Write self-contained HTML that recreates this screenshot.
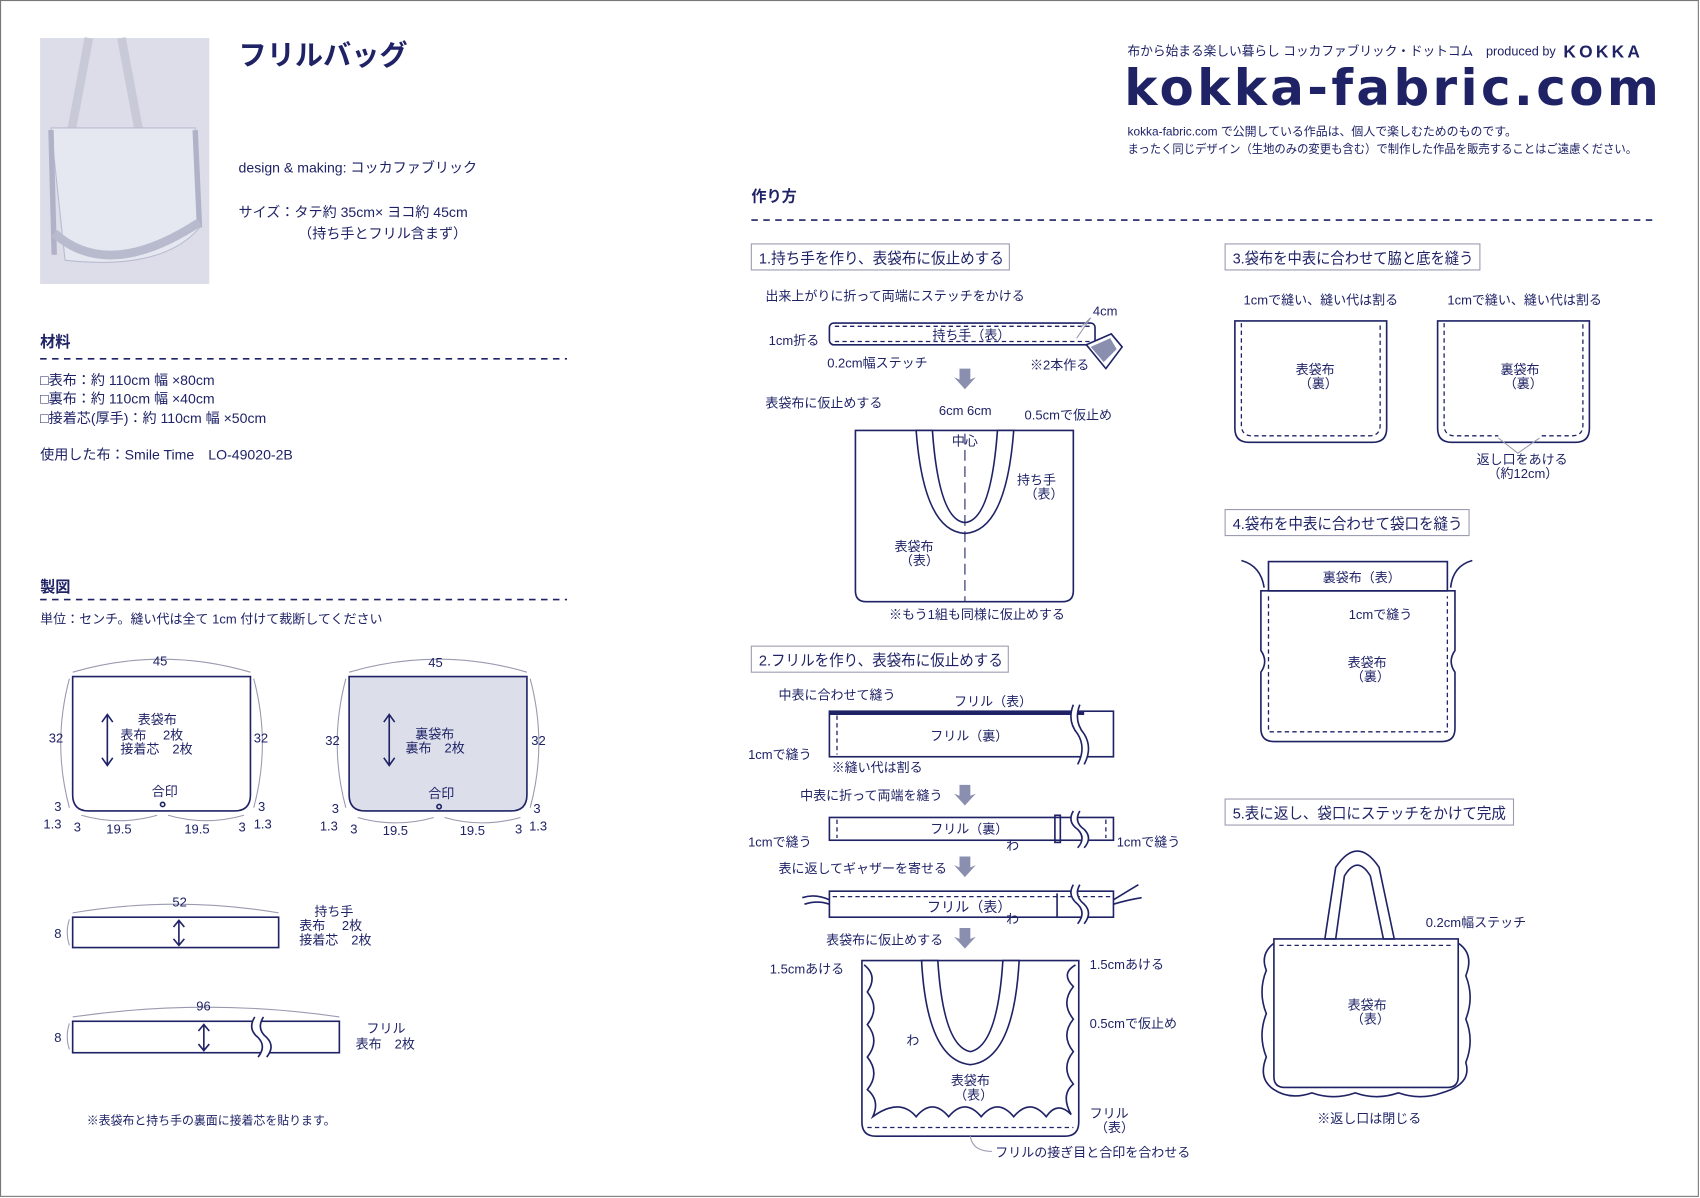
<!DOCTYPE html>
<html><head><meta charset="utf-8"><style>
html,body{margin:0;padding:0;background:#fff;}
svg{display:block;}
text{font-family:"Liberation Sans","Noto Sans CJK JP",sans-serif;fill:#1f2366;}
.s{stroke:#1f2366;stroke-width:1.5;fill:none;}
.d{stroke:#1f2366;stroke-width:1.2;fill:none;stroke-dasharray:4 3;}
.g{stroke:#9a9ab0;stroke-width:1;fill:none;}
.w{fill:#fff;stroke:#1f2366;stroke-width:1.5;}
.bx{fill:#fff;stroke:#9a9ab0;stroke-width:1;}
.ar{fill:#8a8fb0;}
</style></head><body>
<svg width="1700" height="1198" viewBox="0 0 1568 1105" xmlns="http://www.w3.org/2000/svg">
<rect x="0.5" y="0.5" width="1566" height="1103" fill="#fff" stroke="#777" stroke-width="1"/>

<!-- photo -->
<rect x="37" y="35" width="156" height="227" fill="#dcdde8"/>
<path d="M82 35 L66 120 M112 35 L128 120" stroke="#c8cad8" stroke-width="8" fill="none"/>
<path d="M47 118 L180 118 L184 210 Q150 250 60 240 Z" fill="#e6e8f1" stroke="#b8bbd0"/>
<path d="M47 120 L50 235 M180 120 L184 210" stroke="#b0b3c8" stroke-width="5" fill="none"/>
<path d="M50 215 Q100 260 184 205" stroke="#b8bbce" stroke-width="8" fill="none"/>

<text x="220" y="60" font-size="26" font-weight="bold">フリルバッグ</text>
<text x="220" y="159" font-size="13">design &amp; making: コッカファブリック</text>
<text x="220" y="200" font-size="13">サイズ：タテ約 35cm× ヨコ約 45cm</text>
<text x="275" y="220" font-size="13">（持ち手とフリル含まず）</text>

<text x="37" y="320" font-size="14" font-weight="bold">材料</text>
<line x1="37" y1="331" x2="523" y2="331" stroke="#1f2366" stroke-width="1.5" stroke-dasharray="6 5"/>
<text x="37" y="355" font-size="13">□表布：約 110cm 幅 ×80cm</text>
<text x="37" y="372" font-size="13">□裏布：約 110cm 幅 ×40cm</text>
<text x="37" y="390" font-size="13">□接着芯(厚手)：約 110cm 幅 ×50cm</text>
<text x="37" y="424" font-size="13">使用した布：Smile Time　LO-49020-2B</text>

<text x="37" y="546" font-size="14" font-weight="bold">製図</text>
<line x1="37" y1="553" x2="523" y2="553" stroke="#1f2366" stroke-width="1.5" stroke-dasharray="6 5"/>
<text x="37" y="575" font-size="12">単位：センチ。縫い代は全て 1cm 付けて裁断してください</text>

<!-- pattern 1 -->
<path class="s" d="M67 624 L231 624 L231 733 Q231 748 216 748 L82 748 Q67 748 67 733 Z"/>
<path class="g" d="M67 620 Q149 596 231 620"/>
<path class="g" d="M64 626 Q48 686 64 745 M234 626 Q250 686 234 745"/>
<text x="141" y="614" font-size="12">45</text>
<text x="45" y="685" font-size="12">32</text><text x="234" y="685" font-size="12">32</text>
<text x="127" y="668" font-size="12">表袋布</text>
<text x="111" y="682" font-size="12">表布　 2枚</text>
<text x="111" y="695" font-size="12">接着芯　2枚</text>
<path class="s" d="M99 660 L99 705 M94 666 L99 659 L104 666 M94 699 L99 706 L104 699"/>
<text x="140" y="734" font-size="12">合印</text><circle cx="150" cy="742" r="2" class="s"/>
<text x="50" y="748" font-size="12">3</text><text x="40" y="764" font-size="12">1.3</text>
<text x="68" y="767" font-size="12">3</text><text x="98" y="769" font-size="12">19.5</text>
<text x="170" y="769" font-size="12">19.5</text><text x="220" y="767" font-size="12">3</text>
<text x="238" y="748" font-size="12">3</text><text x="234" y="764" font-size="12">1.3</text>
<path class="g" d="M75 752 Q110 762 145 752 M155 752 Q190 762 225 752"/>

<!-- pattern 2 -->
<path d="M322 624 L486 624 L486 733 Q486 748 471 748 L337 748 Q322 748 322 733 Z" fill="#dcdfea" stroke="#1f2366" stroke-width="1.5"/>
<path class="g" d="M322 620 Q404 596 486 620"/>
<path class="g" d="M319 626 Q303 686 319 745 M489 626 Q505 686 489 745"/>
<text x="395" y="615" font-size="12">45</text>
<text x="300" y="687" font-size="12">32</text><text x="490" y="687" font-size="12">32</text>
<text x="383" y="681" font-size="12">裏袋布</text>
<text x="374" y="694" font-size="12">裏布　2枚</text>
<path class="s" d="M359 660 L359 705 M354 666 L359 659 L364 666 M354 699 L359 706 L364 699"/>
<text x="395" y="736" font-size="12">合印</text><circle cx="405" cy="744" r="2" class="s"/>
<text x="306" y="750" font-size="12">3</text><text x="295" y="766" font-size="12">1.3</text>
<text x="323" y="769" font-size="12">3</text><text x="353" y="770" font-size="12">19.5</text>
<text x="424" y="770" font-size="12">19.5</text><text x="475" y="769" font-size="12">3</text>
<text x="492" y="750" font-size="12">3</text><text x="488" y="766" font-size="12">1.3</text>
<path class="g" d="M330 754 Q365 764 400 754 M410 754 Q445 764 480 754"/>

<!-- strap -->
<rect x="67" y="846" width="190" height="28" class="s"/>
<path class="g" d="M67 842 Q162 826 257 842 M64 848 Q60 860 64 872"/>
<text x="159" y="836" font-size="12">52</text><text x="50" y="865" font-size="12">8</text>
<path class="s" d="M165 850 L165 871 M160 855 L165 849 L170 855 M160 866 L165 872 L170 866"/>
<text x="290" y="845" font-size="12">持ち手</text>
<text x="276" y="858" font-size="12">表布　 2枚</text>
<text x="276" y="871" font-size="12">接着芯　2枚</text>

<!-- frill -->
<rect x="67" y="942" width="246" height="29" class="s"/>
<path d="M235 938 Q228 949 238 957 Q246 965 238 975 L246 975 Q254 965 246 957 Q236 949 243 938 Z" fill="#fff" stroke="none"/>
<path class="s" d="M235 938 Q228 949 238 957 Q246 965 238 975 M243 938 Q236 949 246 957 Q254 965 246 975"/>
<path class="g" d="M67 938 Q190 920 313 938 M64 944 Q60 956 64 968"/>
<text x="181" y="932" font-size="12">96</text><text x="50" y="961" font-size="12">8</text>
<path class="s" d="M188 946 L188 968 M183 951 L188 945 L193 951 M183 963 L188 969 L193 963"/>
<text x="338" y="953" font-size="12">フリル</text>
<text x="328" y="967" font-size="12">表布　2枚</text>
<text x="80" y="1037" font-size="11">※表袋布と持ち手の裏面に接着芯を貼ります。</text>

<!-- header right -->
<text x="1040" y="51" font-size="12" textLength="395" lengthAdjust="spacingAndGlyphs">布から始まる楽しい暮らし コッカファブリック・ドットコム　produced by</text>
<text x="1442" y="53" font-size="16" font-weight="bold" letter-spacing="3">KOKKA</text>
<text x="1037" y="97" font-size="46" font-weight="bold" textLength="493" lengthAdjust="spacing" font-family="DejaVu Sans" style="font-family:'DejaVu Sans',sans-serif">kokka-fabric.com</text>
<text x="1040" y="125" font-size="11">kokka-fabric.com で公開している作品は、個人で楽しむためのものです。</text>
<text x="1040" y="141" font-size="11" textLength="470" lengthAdjust="spacingAndGlyphs">まったく同じデザイン（生地のみの変更も含む）で制作した作品を販売することはご遠慮ください。</text>

<text x="693" y="186" font-size="14" font-weight="bold">作り方</text>
<line x1="693" y1="203" x2="1527" y2="203" stroke="#1f2366" stroke-width="1.5" stroke-dasharray="6 5"/>

<!-- boxes -->
<rect x="693" y="225" width="238" height="24" class="bx"/><text x="700" y="243" font-size="14" textLength="226" lengthAdjust="spacingAndGlyphs">1.持ち手を作り、表袋布に仮止めする</text>
<rect x="1130" y="225" width="235" height="24" class="bx"/><text x="1137" y="243" font-size="14" textLength="222" lengthAdjust="spacingAndGlyphs">3.袋布を中表に合わせて脇と底を縫う</text>
<rect x="693" y="596" width="237" height="24" class="bx"/><text x="700" y="614" font-size="14" textLength="225" lengthAdjust="spacingAndGlyphs">2.フリルを作り、表袋布に仮止めする</text>
<rect x="1130" y="470" width="225" height="24" class="bx"/><text x="1137" y="488" font-size="14" textLength="212" lengthAdjust="spacingAndGlyphs">4.袋布を中表に合わせて袋口を縫う</text>
<rect x="1130" y="737" width="266" height="24" class="bx"/><text x="1137" y="755" font-size="14" textLength="252" lengthAdjust="spacingAndGlyphs">5.表に返し、袋口にステッチをかけて完成</text>

<!-- step1 -->
<text x="706" y="277" font-size="12">出来上がりに折って両端にステッチをかける</text>
<rect x="765" y="298" width="245" height="20" rx="4" class="s"/>
<line x1="770" y1="301" x2="1005" y2="301" class="d"/><line x1="770" y1="315" x2="1005" y2="315" class="d"/>
<text x="860" y="313" font-size="12">持ち手（表）</text>
<text x="1008" y="291" font-size="12">4cm</text>
<path class="g" d="M1006 293 L993 312 M1006 293 L997 302"/>
<text x="709" y="318" font-size="12">1cm折る</text>
<text x="763" y="339" font-size="12">0.2cm幅ステッチ</text>
<text x="950" y="341" font-size="12">※2本作る</text>
<path d="M1002 318 L1025 308 L1035 320 L1020 340 Z" fill="#fff" stroke="#1f2366" stroke-width="1.5"/>
<path d="M1006 320 L1024 312 L1030 322 L1018 334 Z" fill="#8a8fb0"/>
<path class="ar" d="M885 340 L895 340 L895 350 L900 348 L890 359 L880 348 L885 350 Z"/>
<text x="706" y="376" font-size="12">表袋布に仮止めする</text>
<text x="866" y="383" font-size="12">6cm 6cm</text>
<text x="945" y="387" font-size="12">0.5cmで仮止め</text>
<path class="s" d="M789 397 L990 397 L990 545 Q990 555 980 555 L799 555 Q789 555 789 545 Z"/>
<path class="w" d="M845 397 L860 397 Q866 480 890 482 Q914 480 920 397 L935 397 Q928 490 890 492 Q852 490 845 397 Z"/>
<line x1="890" y1="400" x2="890" y2="555" stroke="#1f2366" stroke-width="1" stroke-dasharray="10 5"/>
<text x="878" y="411" font-size="12">中心</text>
<text x="938" y="447" font-size="12">持ち手</text><text x="945" y="460" font-size="12">（表）</text>
<text x="825" y="508" font-size="12">表袋布</text><text x="830" y="521" font-size="12">（表）</text>
<text x="820" y="571" font-size="12">※もう1組も同様に仮止めする</text>

<!-- step3 -->
<text x="1147" y="281" font-size="12">1cmで縫い、縫い代は割る</text>
<text x="1335" y="281" font-size="12">1cmで縫い、縫い代は割る</text>
<path class="s" d="M1139 296 L1279 296 L1279 395 Q1279 408 1266 408 L1152 408 Q1139 408 1139 395 Z"/>
<path class="d" d="M1145 298 L1145 392 Q1145 402 1155 402 L1263 402 Q1273 402 1273 392 L1273 298"/>
<text x="1195" y="345" font-size="12">表袋布</text><text x="1198" y="358" font-size="12">（裏）</text>
<path class="s" d="M1326 296 L1466 296 L1466 395 Q1466 408 1453 408 L1339 408 Q1326 408 1326 395 Z"/>
<path class="d" d="M1332 298 L1332 392 Q1332 402 1342 402 L1382 402 M1422 402 L1450 402 Q1460 402 1460 392 L1460 298"/>
<text x="1384" y="345" font-size="12">裏袋布</text><text x="1387" y="358" font-size="12">（裏）</text>
<path class="g" d="M1382 404 L1400 418 L1420 404"/>
<text x="1362" y="428" font-size="12">返し口をあける</text><text x="1372" y="441" font-size="12">（約12cm）</text>

<!-- step4 -->
<rect x="1170" y="518" width="165" height="27" class="s"/>
<path class="s" d="M1163 545 L1342 545 L1342 600 Q1335 610 1342 620 L1342 672 Q1342 684 1330 684 L1175 684 Q1163 684 1163 672 L1163 620 Q1170 610 1163 600 Z"/>
<path class="d" d="M1170 550 L1170 675 L1335 675 L1335 550"/>
<text x="1220" y="537" font-size="12">裏袋布（表）</text>
<text x="1244" y="571" font-size="12">1cmで縫う</text>
<text x="1243" y="615" font-size="12">表袋布</text><text x="1246" y="628" font-size="12">（裏）</text>
<path class="s" d="M1145 517 Q1163 522 1166 542 M1358 517 Q1340 522 1338 542"/>

<!-- step5 -->
<path class="w" d="M1222 866 L1232 800 Q1252 770 1272 800 L1286 866 L1276 866 L1264 808 Q1252 788 1240 808 L1232 866 Z"/>
<path class="s" d="M1175 866 L1345 866 L1345 993 Q1345 1003 1335 1003 L1185 1003 Q1175 1003 1175 993 Z"/>
<path class="s" d="M1175 870 Q1162 880 1168 895 Q1160 915 1168 935 Q1160 955 1168 975 Q1160 995 1175 1005 Q1190 1015 1210 1008 Q1230 1015 1250 1008 Q1270 1015 1290 1008 Q1310 1015 1330 1008 Q1358 1000 1352 980 Q1360 960 1352 940 Q1360 920 1352 900 Q1360 880 1345 870"/>
<line x1="1180" y1="872" x2="1340" y2="872" class="d"/>
<text x="1315" y="855" font-size="12">0.2cm幅ステッチ</text>
<text x="1243" y="931" font-size="12">表袋布</text><text x="1246" y="944" font-size="12">（表）</text>
<text x="1215" y="1036" font-size="12">※返し口は閉じる</text>

<!-- step2 -->
<text x="718" y="645" font-size="12">中表に合わせて縫う</text>
<text x="880" y="651" font-size="12">フリル（表）</text>
<rect x="765" y="656" width="262" height="42" class="s"/>
<line x1="765" y1="658" x2="1000" y2="658" stroke="#1f2366" stroke-width="3"/>
<line x1="772" y1="660" x2="772" y2="696" class="d"/>
<path d="M990 650 Q984 665 994 677 Q1002 690 994 705 L1000 705 Q1008 690 1000 677 Q990 665 996 650 Z" fill="#fff"/>
<path class="s" d="M990 650 Q984 665 994 677 Q1002 690 994 705 M996 650 Q990 665 1000 677 Q1008 690 1000 705"/>
<text x="858" y="683" font-size="12">フリル（裏）</text>
<text x="690" y="700" font-size="12">1cmで縫う</text>
<text x="767" y="712" font-size="12">※縫い代は割る</text>
<path class="ar" d="M885 724 L895 724 L895 734 L900 732 L890 743 L880 732 L885 734 Z"/>
<text x="738" y="738" font-size="12">中表に折って両端を縫う</text>
<rect x="765" y="754" width="262" height="21" class="s"/>
<line x1="772" y1="756" x2="772" y2="773" class="d"/><line x1="1020" y1="756" x2="1020" y2="773" class="d"/>
<rect x="973" y="752" width="5" height="25" class="s"/>
<path d="M990 748 Q984 758 994 765 Q1002 773 994 782 L1000 782 Q1008 773 1000 765 Q990 758 996 748 Z" fill="#fff"/>
<path class="s" d="M990 748 Q984 758 994 765 Q1002 773 994 782 M996 748 Q990 758 1000 765 Q1008 773 1000 782"/>
<text x="858" y="769" font-size="12">フリル（裏）</text>
<text x="690" y="781" font-size="12">1cmで縫う</text><text x="928" y="784" font-size="12">わ</text>
<text x="1030" y="781" font-size="12">1cmで縫う</text>
<path class="ar" d="M885 790 L895 790 L895 800 L900 798 L890 809 L880 798 L885 800 Z"/>
<text x="718" y="805" font-size="12">表に返してギャザーを寄せる</text>
<rect x="765" y="822" width="262" height="24" class="s"/>
<line x1="768" y1="827" x2="1024" y2="827" class="d"/>
<line x1="975" y1="824" x2="975" y2="846" class="s"/>
<path class="s" d="M740 828 Q752 824 765 830 M742 834 Q754 830 765 834 M1027 830 Q1040 822 1050 816 M1027 834 Q1040 830 1053 828"/>
<path d="M990 816 Q984 826 994 834 Q1002 842 994 852 L1000 852 Q1008 842 1000 834 Q990 826 996 816 Z" fill="#fff"/>
<path class="s" d="M990 816 Q984 826 994 834 Q1002 842 994 852 M996 816 Q990 826 1000 834 Q1008 842 1000 852"/>
<text x="855" y="841" font-size="13">フリル（表）</text><text x="928" y="852" font-size="12">わ</text>
<path class="ar" d="M885 856 L895 856 L895 866 L900 864 L890 875 L880 864 L885 866 Z"/>
<text x="762" y="871" font-size="12">表袋布に仮止めする</text>

<path class="s" d="M795 886 L995 886 L995 1035 Q995 1048 982 1048 L808 1048 Q795 1048 795 1035 Z"/>
<path class="s" d="M797 890 Q810 900 800 915 Q812 930 800 945 Q812 960 800 975 Q812 990 800 1005 Q812 1015 805 1030 Q830 1012 845 1030 Q860 1012 875 1030 Q890 1012 905 1030 Q920 1012 935 1030 Q950 1012 965 1030 Q975 1015 988 1028 Q978 1010 990 1000 Q978 985 990 970 Q978 955 990 940 Q978 925 990 910 Q978 898 992 890"/>
<line x1="800" y1="1040" x2="990" y2="1040" class="d"/>
<path class="w" d="M850 886 L865 886 Q870 965 895 970 Q920 965 925 886 L940 886 Q935 978 895 982 Q855 978 850 886 Z"/>
<text x="710" y="898" font-size="12">1.5cmあける</text><text x="1005" y="894" font-size="12">1.5cmあける</text>
<text x="1005" y="948" font-size="12">0.5cmで仮止め</text><text x="836" y="964" font-size="12">わ</text>
<text x="877" y="1001" font-size="12">表袋布</text><text x="880" y="1014" font-size="12">（表）</text>
<text x="1005" y="1031" font-size="12">フリル</text><text x="1010" y="1044" font-size="12">（表）</text>
<path class="g" d="M895 1048 Q897 1062 915 1062"/>
<text x="918" y="1067" font-size="12">フリルの接ぎ目と合印を合わせる</text>
</svg>
</body></html>
